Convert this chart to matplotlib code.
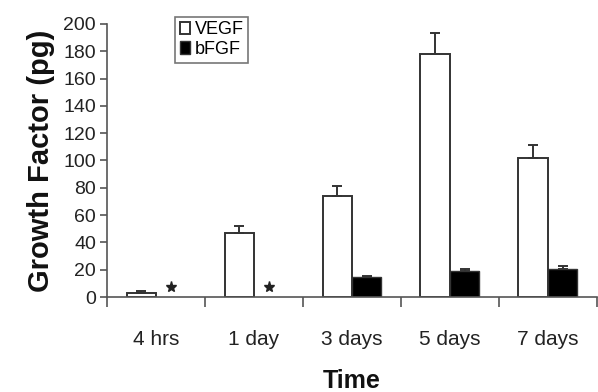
import numpy as np
import matplotlib
matplotlib.use('Agg')
import matplotlib.pyplot as plt

plt.rcParams['font.family'] = ['Liberation Sans', 'DejaVu Sans']

# данные
categories = ['4 hrs', '1 day', '3 days', '5 days', '7 days']
vegf = [3, 47, 74, 178, 102]
vegf_err = [1.5, 5, 7, 15, 9]
bfgf = [np.nan, np.nan, 15, 19, 20.5]
bfgf_err = [0, 0, 0.7, 1.5, 2.5]
not_detected = [True, True, False, False, False]

fig = plt.figure(figsize=(5.98, 3.92), dpi=100)
ax = fig.add_axes([0.179, 0.2423, 0.819, 0.6967])

x = np.arange(len(categories))
w = 0.3
edge = '#333333'

ax.bar(x - w / 2, vegf, w, color='white', edgecolor=edge, linewidth=1.4, label='VEGF',
       yerr=[np.zeros(len(vegf)), vegf_err], capsize=3.5,
       error_kw=dict(ecolor=edge, elinewidth=1.4, capthick=1.4))
ax.bar(x + w / 2, bfgf, w, color='black', edgecolor=edge, linewidth=1.0, label='bFGF',
       yerr=[np.zeros(len(bfgf)), bfgf_err], capsize=3.5,
       error_kw=dict(ecolor=edge, elinewidth=1.4, capthick=1.4))

# звездочки там, где bFGF не обнаружен
star_x = [x[i] + w / 2 for i in range(len(categories)) if not_detected[i]]
ax.plot(star_x, [7.3] * len(star_x), linestyle='none', marker='*', markersize=8,
        color='#222222', clip_on=False)

ax.set_xlim(-0.5, len(categories) - 0.5)
ax.set_ylim(0, 200)
ax.set_yticks(range(0, 201, 20))
ax.set_xticks(np.arange(-0.5, len(categories), 1))
ax.set_xticklabels([])
ax.set_xticks(x, minor=True)
ax.set_xticklabels(categories, minor=True)
ax.tick_params(axis='x', which='minor', length=0, pad=24, labelsize=15, colors='#222222')
ax.tick_params(axis='x', which='major', length=7, direction='out', color='#555555', width=1.2)
ax.tick_params(axis='y', length=5, direction='out', color='#555555', width=1.2,
               labelsize=14, pad=3, labelcolor='#222222')

for s in ['top', 'right']:
    ax.spines[s].set_visible(False)
for s in ['left', 'bottom']:
    ax.spines[s].set_color('#555555')
    ax.spines[s].set_linewidth(1.2)

ax.set_ylabel('Growth Factor (pg)', fontsize=21, fontweight='bold', labelpad=6, color='#111111')
ax.set_xlabel('Time', fontsize=18, fontweight='bold', labelpad=14, color='#111111')

leg = ax.legend(loc='upper left', bbox_to_anchor=(0.139, 1.026), fontsize=13,
                frameon=True, fancybox=False, edgecolor='#555555',
                handlelength=0.6, handleheight=0.7, handletextpad=0.25,
                borderpad=0.25, labelspacing=0.15, borderaxespad=0)
leg.get_frame().set_linewidth(1.2)

fig.savefig('out.png', dpi=100)
